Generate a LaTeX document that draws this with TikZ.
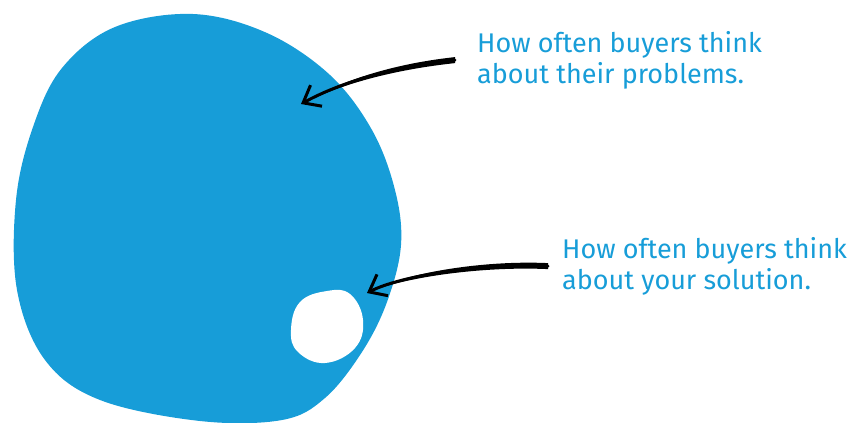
\documentclass[tikz,border=0pt]{standalone}
\usepackage{fontspec}
\setmainfont{Fira Sans}
\usetikzlibrary{arrows.meta}
\definecolor{blobblue}{RGB}{23,157,216}

\begin{document}
\begin{tikzpicture}[x=1pt,y=-1pt,
  label/.style={text=blobblue,align=left,anchor=north west,inner sep=0pt,
    font=\fontsize{27}{31}\selectfont},
  brush/.style={line width=3pt,line cap=round,
    -{Straight Barb[length=15pt,width=24pt,line width=3pt]}}]
  \useasboundingbox (0,0) rectangle (852,423);
  % big blob
  \fill[blobblue] plot[smooth cycle,tension=0.6] coordinates {(193,14)
    (267,33) (330,75) (372,130) (395,190) (401,245) (387,302) (362,352)
    (325,398) (282,420) (200,421) (100,400) (45,360) (17,290) (16,200)
    (33,127) (62,68) (115,27)} ;
  % small hole
  \fill[white] plot[smooth cycle,tension=0.7] coordinates {(327,291)
    (350,294) (363,320) (355,348) (325,363) (298,352) (291,330)
    (300,302)} ;
  % labels
  \node[label] (problems) at (477,31) {How often buyers think\\about
    their problems.} ;
  \node[label] (solution) at (562,237) {How often buyers think\\about
    your solution.} ;
  % arrows
  \coordinate (probtip) at (301,104) ; \coordinate (soltip) at
  (367,293) ;
  \draw[brush] ([xshift=-22]problems.west) .. controls (400,66) and
  (345,80) .. (probtip) ; \fill ([shift={(-22,-3)}]problems.west) ..
  controls (400,63) and (345,78) .. (probtip) .. controls (345,82) and
  (400,69) .. ([shift={(-22,3)}]problems.west) -- cycle ;
  \draw[brush] ([xshift=-14]solution.west) .. controls (480,263) and
  (400,276) .. (soltip) ; \fill ([shift={(-14,-3)}]solution.west) ..
  controls (480,260) and (400,274) .. (soltip) .. controls (400,278)
  and (480,266) .. ([shift={(-14,3)}]solution.west) -- cycle ;
\end{tikzpicture}
\end{document}
